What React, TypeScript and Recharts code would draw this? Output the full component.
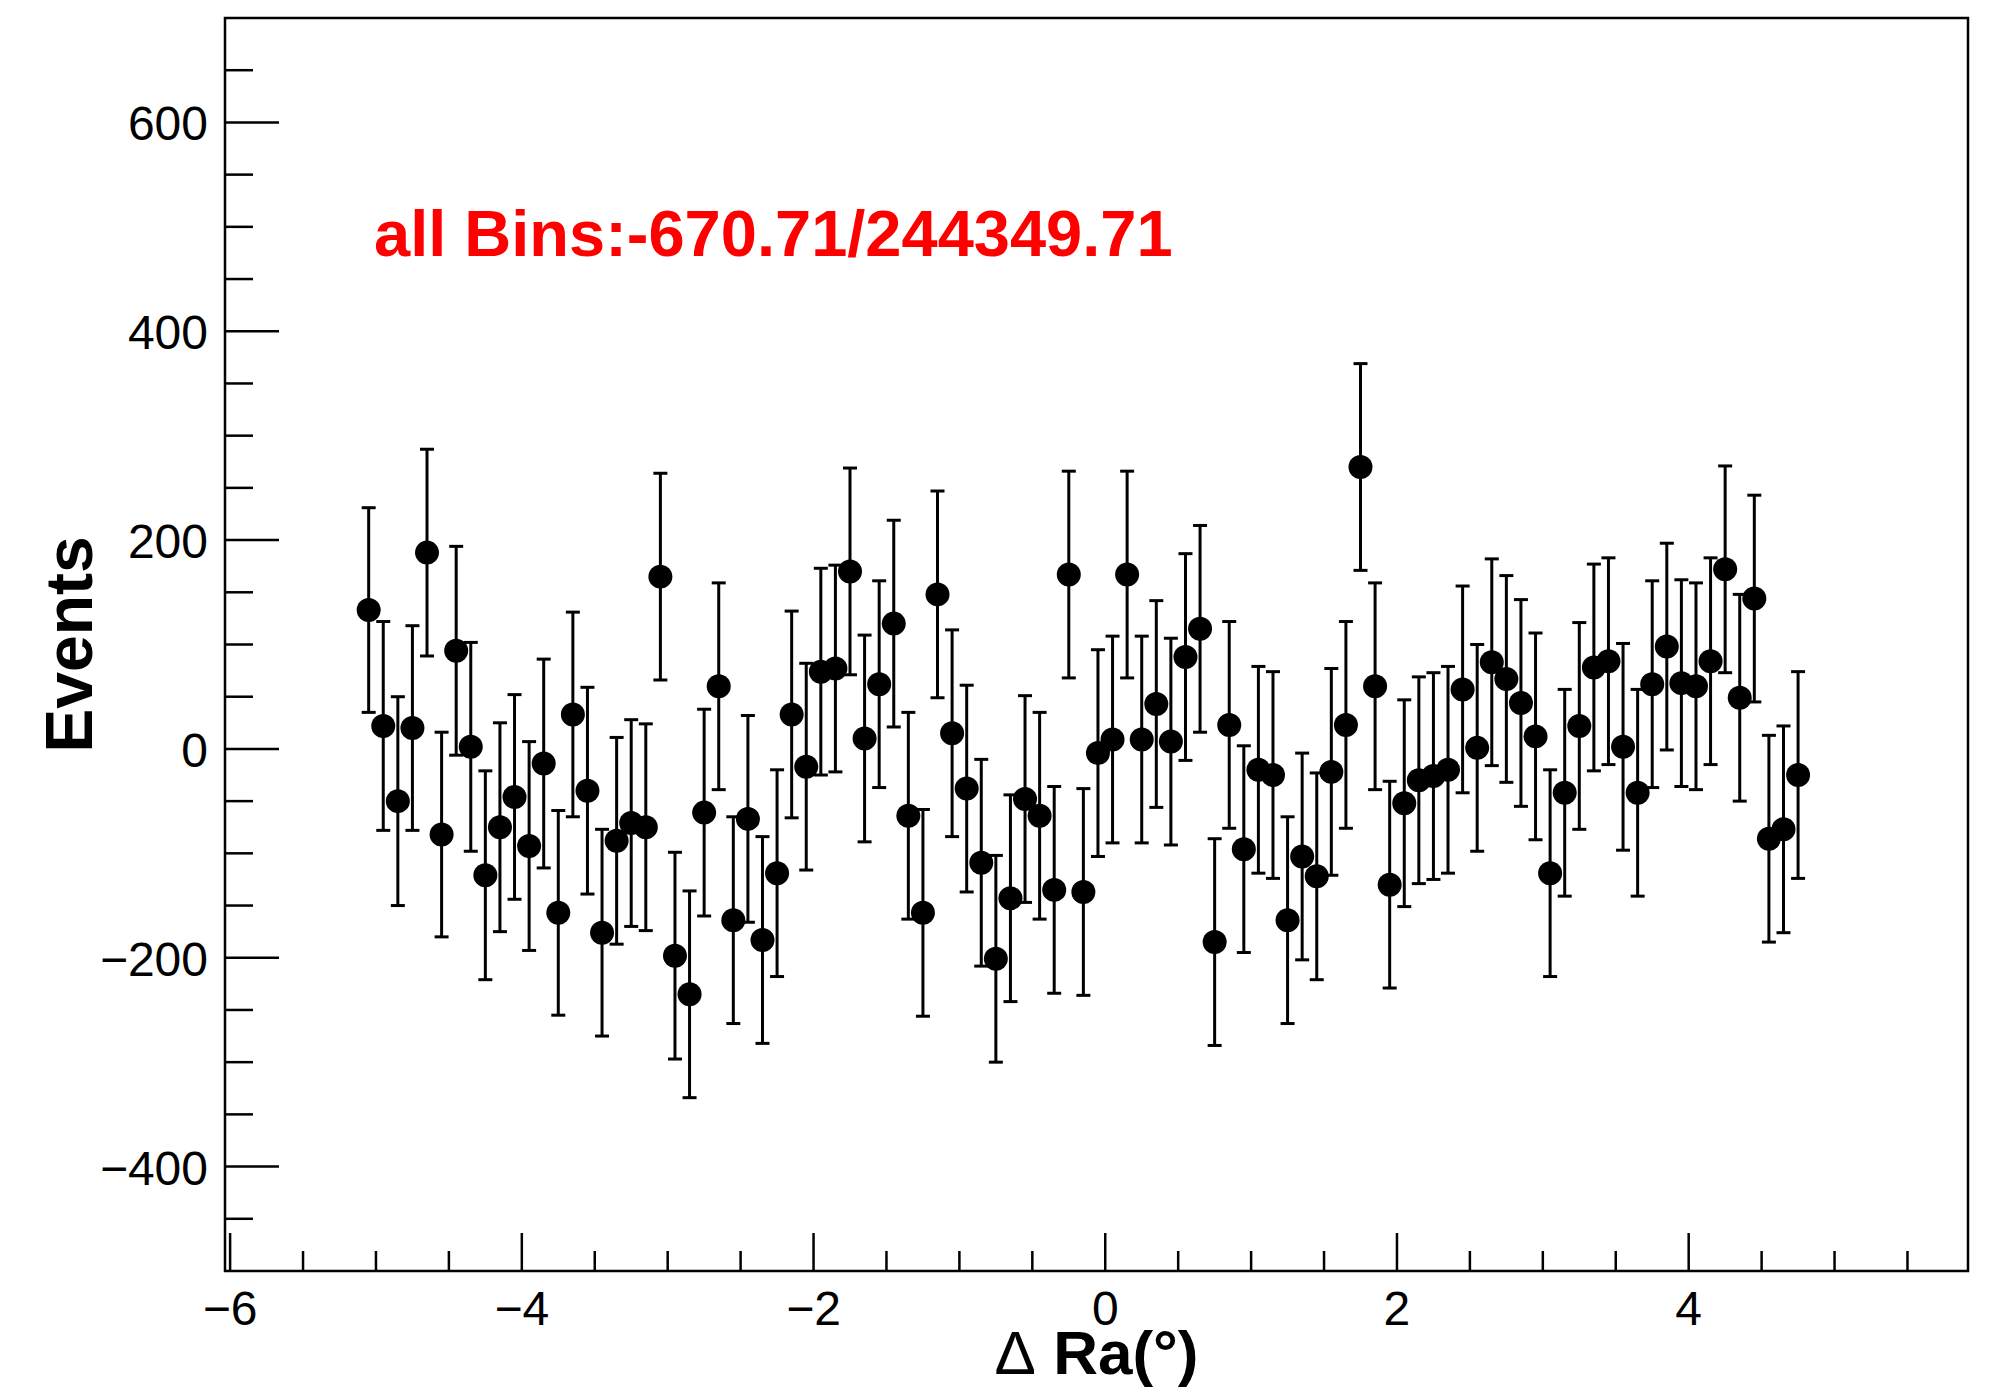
import React from 'react';
import { ScatterChart, Scatter, XAxis, YAxis, ErrorBar, ReferenceArea } from 'recharts';

// bin centres of ΔRa (degrees)
const binCenters = [
  -5.05, -4.95, -4.85, -4.75, -4.65, -4.55, -4.45, -4.35, -4.25, -4.15,
  -4.05, -3.95, -3.85, -3.75, -3.65, -3.55, -3.45, -3.35, -3.25, -3.15,
  -3.05, -2.95, -2.85, -2.75, -2.65, -2.55, -2.45, -2.35, -2.25, -2.15,
  -2.05, -1.95, -1.85, -1.75, -1.65, -1.55, -1.45, -1.35, -1.25, -1.15,
  -1.05, -0.95, -0.85, -0.75, -0.65, -0.55, -0.45, -0.35, -0.25, -0.15,
  -0.05, 0.05, 0.15, 0.25, 0.35, 0.45, 0.55, 0.65, 0.75, 0.85,
  0.95, 1.05, 1.15, 1.25, 1.35, 1.45, 1.55, 1.65, 1.75, 1.85,
  1.95, 2.05, 2.15, 2.25, 2.35, 2.45, 2.55, 2.65, 2.75, 2.85,
  2.95, 3.05, 3.15, 3.25, 3.35, 3.45, 3.55, 3.65, 3.75, 3.85,
  3.95, 4.05, 4.15, 4.25, 4.35, 4.45, 4.55, 4.65, 4.75,
];

// excess events per bin
const events = [
  133, 22, -50, 20, 188, -82, 94, 2, -121, -75,
  -46, -93, -14, -157, 33, -40, -176, -88, -71, -75,
  165, -198, -235, -61, 60, -164, -67, -183, -119, 33,
  -17, 74, 77, 170, 10, 62, 120, -64, -157, 148,
  15, -38, -109, -201, -143, -48, -64, -135, 167, -137,
  -4, 9, 167, 9, 43, 7, 88, 115, -185, 23,
  -96, -20, -25, -164, -103, -122, -22, 23, 270, 60,
  -130, -52, -30, -26, -20, 57, 1, 83, 67, 44,
  12, -119, -42, 22, 78, 84, 2, -42, 62, 98,
  63, 60, 84, 172, 49, 144, -86, -77, -25,
];

// statistical error per bin
const errors = [
  98, 100, 100, 98, 99, 98, 100, 100, 100, 100,
  98, 100, 100, 98, 98, 99, 99, 99, 99, 99,
  99, 99, 99, 99, 99, 99, 99, 99, 99, 99,
  99, 99, 99, 99, 99, 99, 99, 99, 99, 99,
  99, 99, 99, 99, 99, 99, 99, 99, 99, 99,
  99, 99, 99, 99, 99, 99, 99, 99, 99, 99,
  99, 99, 99, 99, 99, 99, 99, 99, 99, 99,
  99, 99, 99, 99, 99, 99, 99, 99, 99, 99,
  99, 99, 99, 99, 99, 99, 99, 99, 99, 99,
  99, 99, 99, 99, 99, 99, 99, 99, 99,
];

const xTicks = [-6, -5.5, -5, -4.5, -4, -3.5, -3, -2.5, -2, -1.5, -1, -0.5, 0, 0.5, 1, 1.5, 2, 2.5, 3, 3.5, 4, 4.5, 5, 5.5];
const yTicks = [-450, -400, -350, -300, -250, -200, -150, -100, -50, 0, 50, 100, 150, 200, 250, 300, 350, 400, 450, 500, 550, 600, 650];

const X_MIN = -6.035;
const X_MAX = 5.915;
const Y_MIN = -500;
const Y_MAX = 700;

const FONT = '"Liberation Sans", Arial, Helvetica, sans-serif';

const data = binCenters.map((x, i) => ({ x, y: events[i], err: errors[i] }));

const fmt = (v: number) => (v < 0 ? '\u2212' + Math.abs(v) : String(v));

const XTick = (props: any) => {
  const { x, y, payload } = props;
  const v = payload.value;
  const major = Number.isInteger(v) && v % 2 === 0;
  return (
    <g>
      <line x1={x} x2={x} y1={y} y2={y - (major ? 38 : 20)} stroke="#000" strokeWidth={2.5} />
      {major && (
        <text x={x} y={y + 54} textAnchor="middle" fontSize={48} fontFamily={FONT} fill="#000">
          {fmt(v)}
        </text>
      )}
    </g>
  );
};

const YTick = (props: any) => {
  const { x, y, payload } = props;
  const v = payload.value;
  const major = v % 200 === 0;
  return (
    <g>
      <line x1={x} x2={x + (major ? 54 : 28)} y1={y} y2={y} stroke="#000" strokeWidth={2.5} />
      {major && (
        <text x={x - 17} y={y + 18} textAnchor="end" fontSize={48} fontFamily={FONT} fill="#000">
          {fmt(v)}
        </text>
      )}
    </g>
  );
};

const renderDot = (p: any) => <circle cx={p.cx} cy={p.cy} r={12} fill="#000" />;

export default function App() {
  return (
    <div style={{ position: 'absolute', left: 0, top: 0, width: 2003, height: 1392, background: '#fff' }}>
      <ScatterChart width={2003} height={1392} margin={{ top: 18, right: 35, bottom: 0, left: 0 }}>
        <XAxis
          type="number"
          dataKey="x"
          domain={[X_MIN, X_MAX]}
          allowDataOverflow
          ticks={xTicks}
          interval={0}
          height={121}
          tickSize={0}
          tickMargin={0}
          axisLine={false}
          tick={XTick}
          label={{
            content: ({ viewBox }: any) => (
              <text
                x={viewBox.x + viewBox.width / 2}
                y={viewBox.y + 103}
                textAnchor="middle"
                fontSize={62}
                fontFamily={FONT}
                fill="#000"
              >
                <tspan fontWeight="normal">Δ</tspan>
                <tspan fontWeight="bold"> Ra(°)</tspan>
              </text>
            ),
          }}
        />
        <YAxis
          type="number"
          dataKey="y"
          domain={[Y_MIN, Y_MAX]}
          allowDataOverflow
          ticks={yTicks}
          interval={0}
          width={225}
          tickSize={0}
          tickMargin={0}
          axisLine={false}
          tick={YTick}
          label={{
            content: ({ viewBox }: any) => {
              const cy = viewBox.y + viewBox.height / 2;
              return (
                <text
                  x={92}
                  y={cy}
                  transform={`rotate(-90, 92, ${cy})`}
                  textAnchor="middle"
                  fontSize={66}
                  fontWeight="bold"
                  fontFamily={FONT}
                  fill="#000"
                >
                  Events
                </text>
              );
            },
          }}
        />
        <ReferenceArea
          x1={X_MIN}
          x2={X_MAX}
          y1={Y_MIN}
          y2={Y_MAX}
          fill="none"
          fillOpacity={0}
          stroke="#000"
          strokeWidth={2.5}
          ifOverflow="visible"
        />
        <Scatter data={data} isAnimationActive={false} shape={renderDot}>
          <ErrorBar dataKey="err" direction="y" width={7} strokeWidth={3} stroke="#000" isAnimationActive={false} />
        </Scatter>
      </ScatterChart>
      <svg
        width={2003}
        height={1392}
        style={{ position: 'absolute', left: 0, top: 0, pointerEvents: 'none' }}
      >
        <text x={374} y={256} fontSize={65} fontWeight="bold" fontFamily={FONT} fill="#ff0000">
          all Bins:-670.71/244349.71
        </text>
      </svg>
    </div>
  );
}
